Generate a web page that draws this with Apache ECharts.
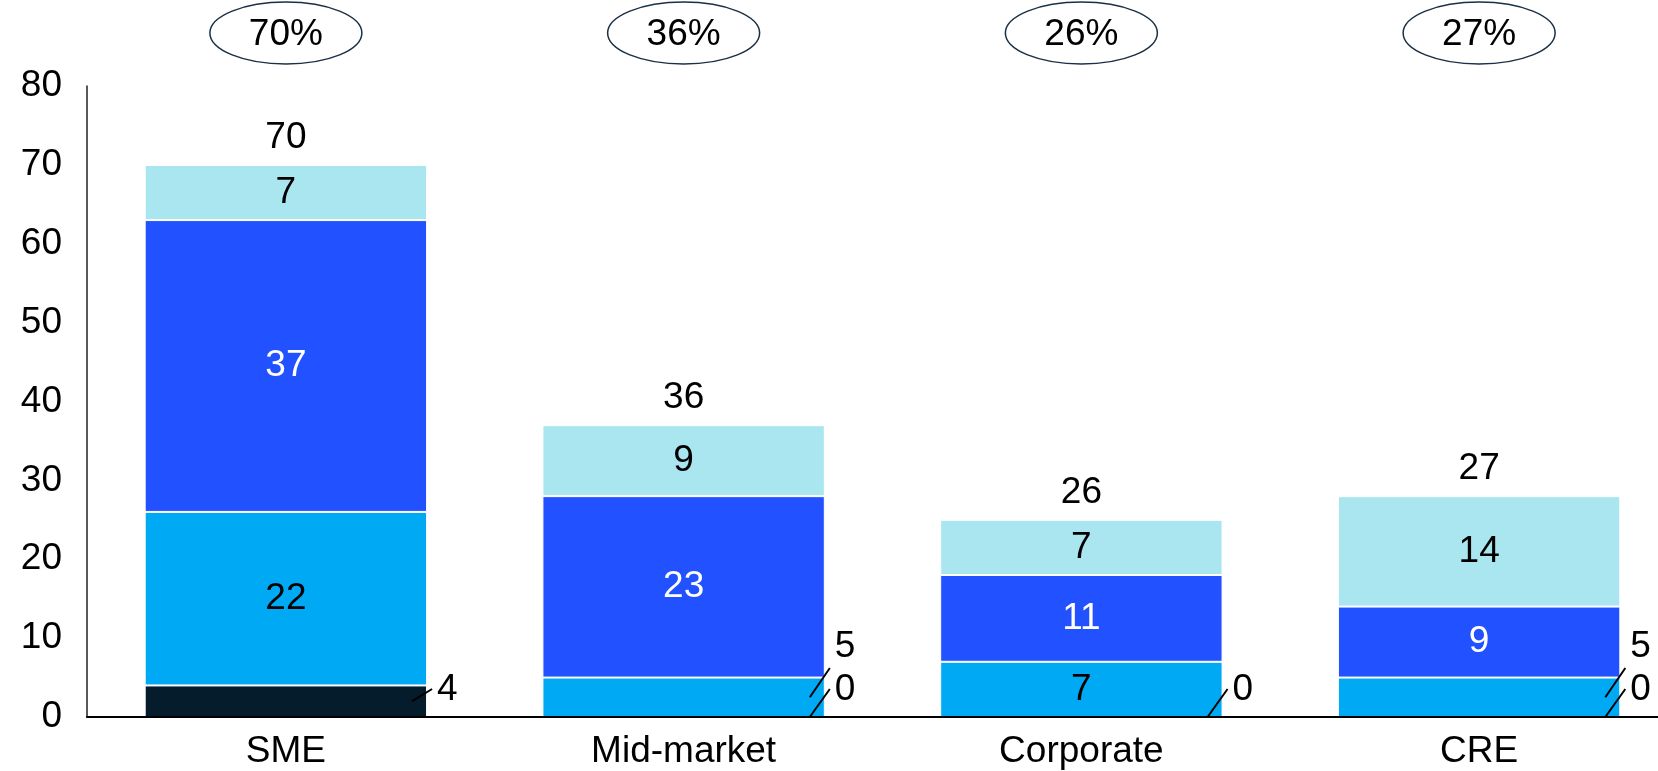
<!DOCTYPE html>
<html>
<head>
<meta charset="utf-8">
<style>
  html, body { margin: 0; padding: 0; background: #ffffff; overflow: hidden; }
  /* the last category band runs slightly past the right edge of the window */
  #chart { width: 1678px; height: 771px; }
</style>
<script src="https://cdn.jsdelivr.net/npm/echarts@6/dist/echarts.min.js"></script>
</head>
<body>
<div id="chart"></div>
<script>
// Loan book by segment, stacked
const categories = ['SME', 'Mid-market', 'Corporate', 'CRE'];
const darkValues  = [4, 0, 0, 0];
const lightValues = [22, 5, 7, 5];
const blueValues  = [37, 23, 11, 9];
const paleValues  = [7, 9, 7, 14];
const totals      = [70, 36, 26, 27];
const shares      = ['70%', '36%', '26%', '27%'];
const yTicks      = [0, 10, 20, 30, 40, 50, 60, 70, 80];

const FONT = "'Liberation Sans', Arial, Helvetica, sans-serif";
const FS = 37;
const BAR_RATIO = 0.71;
const OUTSIDE_LIMIT = 6; // segments smaller than this get a callout label

const colors = { dark: '#051C2C', light: '#00A9F4', blue: '#2251FF', pale: '#AAE6F0' };

function segSeries(name, values, color, textColor) {
  return {
    name, type: 'bar', stack: 'total', barWidth: (BAR_RATIO * 100) + '%',
    data: values,
    itemStyle: { color, borderColor: '#ffffff', borderWidth: 1 },
    label: {
      show: true, position: 'inside', fontFamily: FONT, fontSize: FS, color: textColor,
      formatter: p => (p.value < OUTSIDE_LIMIT ? '' : String(p.value))
    },
    emphasis: { disabled: true }
  };
}

const stackTop = categories.map((c, i) => darkValues[i] + lightValues[i] + blueValues[i] + paleValues[i]);

const chart = echarts.init(document.getElementById('chart'));
chart.setOption({
  animation: false,
  backgroundColor: '#ffffff',
  grid: { left: 87, right: 0, top: 86, bottom: 54, containLabel: false },
  xAxis: {
    type: 'category', data: categories, z: 5,
    axisLine: { show: true, lineStyle: { color: '#000000', width: 2 } },
    axisTick: { show: false },
    axisLabel: { fontFamily: FONT, fontSize: FS, color: '#000000', margin: 16 }
  },
  yAxis: {
    type: 'value', min: 0, max: 80, interval: 10,
    axisLine: { show: true, lineStyle: { color: '#222222', width: 1.5 } },
    axisTick: { show: false },
    splitLine: { show: false },
    axisLabel: {
      fontFamily: FONT, fontSize: FS, color: '#000000', margin: 25,
      formatter: v => (yTicks.indexOf(v) >= 0 ? String(v) : '')
    }
  },
  series: [
    segSeries('Dark', darkValues, colors.dark, '#ffffff'),
    segSeries('Light', lightValues, colors.light, '#000000'),
    segSeries('Blue', blueValues, colors.blue, '#ffffff'),
    segSeries('Pale', paleValues, colors.pale, '#000000'),
    {
      // totals above each stack and share ellipses along the top
      type: 'custom', clip: false, z: 10,
      data: categories.map((c, i) => [i, stackTop[i]]),
      encode: { x: 0, y: 1 },
      renderItem: (params, api) => {
        const i = api.value(0);
        const top = api.coord([i, api.value(1)]);
        return {
          type: 'group',
          children: [
            {
              type: 'text',
              style: { x: top[0], y: top[1] - 27, text: String(totals[i]), fontFamily: FONT, fontSize: FS,
                       fill: '#000000', align: 'center', verticalAlign: 'middle' }
            },
            {
              type: 'ellipse',
              shape: { cx: top[0], cy: 33, rx: 76, ry: 31 },
              style: { fill: '#ffffff', stroke: '#1B2F45', lineWidth: 1.5 }
            },
            {
              type: 'text',
              style: { x: top[0], y: 35, text: shares[i], fontFamily: FONT, fontSize: FS,
                       fill: '#000000', align: 'center', verticalAlign: 'middle' }
            }
          ]
        };
      }
    },
    {
      // callout labels for thin segments at the stack base
      type: 'custom', clip: false, z: 10,
      data: categories.map((c, i) => [i, 0]),
      encode: { x: 0, y: 1 },
      renderItem: (params, api) => {
        const i = api.value(0);
        const base = api.coord([i, 0]);
        const right = base[0] + api.size([1, 0])[0] * BAR_RATIO / 2;
        const children = [];
        const dv = darkValues[i], lv = lightValues[i];
        const lineStyle = { stroke: '#000000', lineWidth: 2 };
        if (dv < OUTSIDE_LIMIT) {
          const mid = api.coord([i, dv / 2])[1];
          children.push({ type: 'line', shape: { x1: right - 15, y1: mid, x2: right + 5, y2: base[1] - 28 }, style: lineStyle });
          children.push({ type: 'text', style: { x: right + 10, y: base[1] - 27, text: String(dv), fontFamily: FONT,
                          fontSize: FS, fill: '#000000', align: 'left', verticalAlign: 'middle' } });
        }
        if (lv < OUTSIDE_LIMIT) {
          const mid = api.coord([i, dv + lv / 2])[1];
          children.push({ type: 'line', shape: { x1: right - 15, y1: mid, x2: right + 5, y2: base[1] - 49 }, style: lineStyle });
          children.push({ type: 'text', style: { x: right + 10, y: base[1] - 70, text: String(lv), fontFamily: FONT,
                          fontSize: FS, fill: '#000000', align: 'left', verticalAlign: 'middle' } });
        }
        return { type: 'group', children };
      }
    }
  ]
});
</script>
</body>
</html>
